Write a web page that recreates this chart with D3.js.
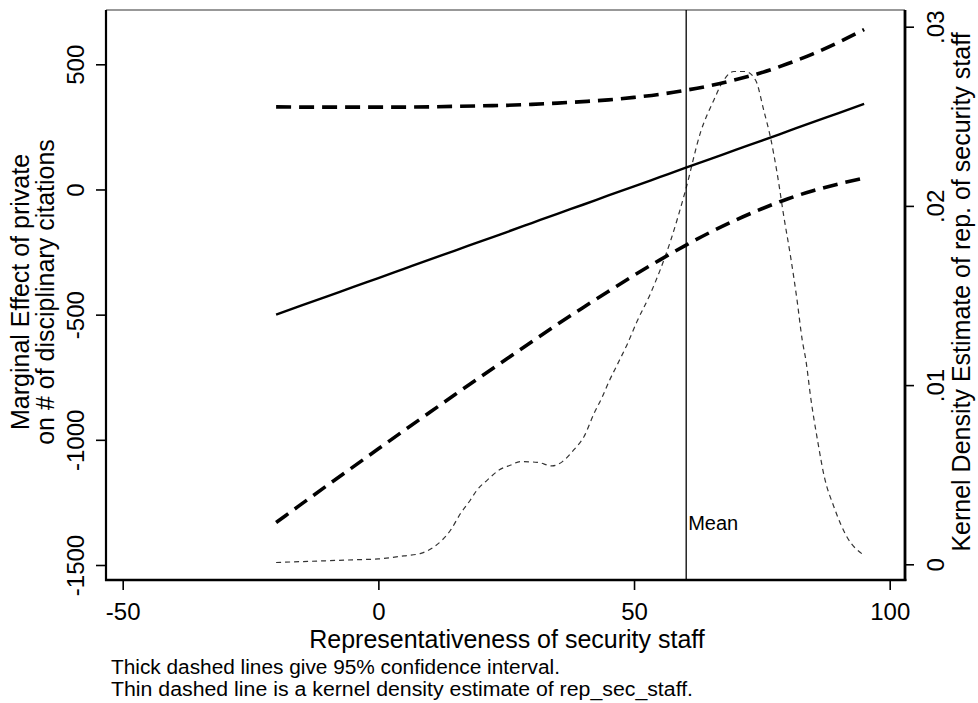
<!DOCTYPE html>
<html>
<head>
<meta charset="utf-8">
<script src="https://cdn.jsdelivr.net/npm/d3@7"></script>
<style>
  html, body { margin: 0; padding: 0; background: #fff; }
  svg { display: block; font-family: "Liberation Sans", Arial, sans-serif; }
</style>
</head>
<body>
<svg id="chart" width="978" height="703"></svg>
<script>
// ---- Data ----
const xGrid = [-20,-15,-10,-5,0,5,10,15,20,25,30,35,40,45,50,55,60,65,70,75,80,85,90,95];
const marginalEffect = [-500,-463,-427,-390,-354,-317,-280,-244,-207,-171,-134,-97,-61,-24,12,49,86,122,159,195,232,269,305,342];
const upperCI = [330,329,329,329,329,329,330,332,334,336,340,345,351,358,368,380,396,415,439,467,502,542,588,639];
const lowerCI = [-1330,-1256,-1182,-1109,-1036,-963,-891,-819,-748,-678,-608,-539,-472,-407,-343,-282,-224,-170,-121,-77,-38,-5,22,45];

const kdeX = [-20,-15,-10,-5,0,5,8.3,10.9,12.5,14.1,16.1,18,19.3,21.3,23.6,25.9,27.8,31.1,34,36,38.2,40.2,42.2,43.8,45.1,47,48.7,50.5,53.2,57.2,60.1,63,65.6,67.5,69.5,71.8,73.8,75.4,76.7,78,79.3,80.6,81.9,82.9,83.6,84.6,85.9,87.2,89.1,91.7,95];
const kdeY = [0.0001,0.00015,0.0002,0.00025,0.0003,0.00047,0.00061,0.00098,0.00136,0.0019,0.00285,0.00359,0.00415,0.0047,0.00526,0.00554,0.00573,0.00569,0.00549,0.00573,0.00638,0.00712,0.00843,0.00935,0.0102,0.0113,0.0123,0.0135,0.0151,0.0181,0.0209,0.0241,0.0259,0.027,0.0275,0.0275,0.027,0.0253,0.0238,0.0218,0.0194,0.0172,0.0147,0.0125,0.0114,0.0092,0.0069,0.0049,0.0032,0.0015,0.0005];

const meanValue = 60.2;

const xTicks = [-50, 0, 50, 100];
const yLeftTicks = [-1500, -1000, -500, 0, 500];
const yRightTicks = [0, 0.01, 0.02, 0.03];
const yRightLabels = ["0", ".01", ".02", ".03"];

const xTitle = "Representativeness of security staff";
const yLeftTitle = ["Marginal Effect of private", "on # of disciplinary citations"];
const yRightTitle = "Kernel Density Estimate of rep. of security staff";
const notes = ["Thick dashed lines give 95% confidence interval.",
               "Thin dashed line is a kernel density estimate of rep_sec_staff."];

// ---- Layout ----
const box = { left: 106, right: 905, top: 10, bottom: 580 };
const svg = d3.select("#chart");
svg.append("rect").attr("width", 978).attr("height", 703).attr("fill", "#fff");

const x = d3.scaleLinear().domain([-50, 100]).range([122.7, 889.7]);
const yL = d3.scaleLinear().domain([-1500, 500]).range([565, 64.3]);
const yR = d3.scaleLinear().domain([0, 0.03]).range([564.3, 26.7]);

// frame: thin top line
svg.append("line").attr("x1", box.left).attr("x2", box.right)
  .attr("y1", box.top).attr("y2", box.top)
  .attr("stroke", "#333").attr("stroke-width", 1.2);

// ---- Data lines ----
const idx = d3.range(xGrid.length);
const lineL = (arr) => d3.line().x(i => x(xGrid[i])).y(i => yL(arr[i])).curve(d3.curveMonotoneX)(idx);

// KDE thin dashed
const kIdx = d3.range(kdeX.length);
svg.append("path")
  .attr("d", d3.line().x(i => x(kdeX[i])).y(i => yR(kdeY[i])).curve(d3.curveMonotoneX)(kIdx))
  .attr("fill", "none").attr("stroke", "#333").attr("stroke-width", 1.2)
  .attr("stroke-dasharray", "5,4");

// mean line
svg.append("line").attr("x1", x(meanValue)).attr("x2", x(meanValue))
  .attr("y1", box.top).attr("y2", box.bottom)
  .attr("stroke", "#000").attr("stroke-width", 1.3);
svg.append("text").attr("x", x(meanValue) + 2).attr("y", 530)
  .attr("font-size", 20).attr("fill", "#000").text("Mean");

// confidence bands
[upperCI, lowerCI].forEach(arr => {
  svg.append("path").attr("d", lineL(arr))
    .attr("fill", "none").attr("stroke", "#000").attr("stroke-width", 3.6)
    .attr("stroke-dasharray", "15,8");
});
// marginal effect
svg.append("path").attr("d", lineL(marginalEffect))
  .attr("fill", "none").attr("stroke", "#000").attr("stroke-width", 2.4);

// ---- Axes ----
// left
const gL = svg.append("g").attr("transform", `translate(${box.left},0)`)
  .call(d3.axisLeft(yL).tickValues(yLeftTicks).tickSize(10).tickSizeOuter(0).tickFormat(d3.format("d")));
gL.select(".domain").remove();
gL.selectAll(".tick line").attr("stroke", "#000").attr("stroke-width", 1.6);
gL.selectAll(".tick text")
  .attr("transform", "rotate(-90)")
  .attr("x", 0).attr("y", -22.5).attr("dy", 0)
  .attr("text-anchor", "middle").attr("font-size", 24)
  .attr("font-family", "Liberation Sans, Arial, sans-serif").attr("fill", "#000")
  .text(d => d3.format("d")(d).replace("−", "-"));

// right
const gR = svg.append("g").attr("transform", `translate(${box.right},0)`)
  .call(d3.axisRight(yR).tickValues(yRightTicks).tickSize(9).tickSizeOuter(0)
    .tickFormat((d, i) => yRightLabels[i]));
gR.select(".domain").remove();
gR.selectAll(".tick line").attr("stroke", "#000").attr("stroke-width", 1.6);
gR.selectAll(".tick text")
  .attr("transform", "rotate(-90)")
  .attr("x", 0).attr("y", 38.5).attr("dy", 0)
  .attr("text-anchor", "middle").attr("font-size", 24)
  .attr("font-family", "Liberation Sans, Arial, sans-serif").attr("fill", "#000");

// bottom
const gB = svg.append("g").attr("transform", `translate(0,${box.bottom})`)
  .call(d3.axisBottom(x).tickValues(xTicks).tickSize(10).tickSizeOuter(0).tickFormat(d3.format("d")));
gB.select(".domain").remove();
gB.selectAll(".tick line").attr("stroke", "#000").attr("stroke-width", 1.6);
gB.selectAll(".tick text")
  .attr("y", 39.5).attr("dy", 0).attr("font-size", 24)
  .attr("font-family", "Liberation Sans, Arial, sans-serif").attr("fill", "#000")
  .text(d => d3.format("d")(d).replace("−", "-"));

// axis lines (thick)
svg.append("line").attr("x1", box.left).attr("x2", box.left).attr("y1", box.top).attr("y2", box.bottom + 1)
  .attr("stroke", "#000").attr("stroke-width", 2.2);
svg.append("line").attr("x1", box.right).attr("x2", box.right).attr("y1", box.top).attr("y2", box.bottom + 1)
  .attr("stroke", "#000").attr("stroke-width", 2.8);
svg.append("line").attr("x1", box.left - 1).attr("x2", box.right + 1.4).attr("y1", box.bottom).attr("y2", box.bottom)
  .attr("stroke", "#000").attr("stroke-width", 2.6);

// ---- Titles ----
svg.append("text").attr("x", 507).attr("y", 647.5).attr("text-anchor", "middle")
  .attr("font-size", 25).attr("fill", "#000").text(xTitle);

yLeftTitle.forEach((t, i) => {
  svg.append("text")
    .attr("transform", `translate(${[28.5, 53.5][i]},292) rotate(-90)`)
    .attr("text-anchor", "middle").attr("font-size", 25).attr("fill", "#000").text(t);
});

svg.append("text")
  .attr("transform", `translate(970,292) rotate(-90)`)
  .attr("text-anchor", "middle").attr("font-size", 25).attr("fill", "#000").text(yRightTitle);

const noteWidths = [449, 582];
notes.forEach((t, i) => {
  svg.append("text").attr("x", 111).attr("y", [673.5, 696][i])
    .attr("font-size", 19.5).attr("fill", "#000")
    .attr("textLength", noteWidths[i]).attr("lengthAdjust", "spacingAndGlyphs")
    .text(t);
});
</script>
</body>
</html>
